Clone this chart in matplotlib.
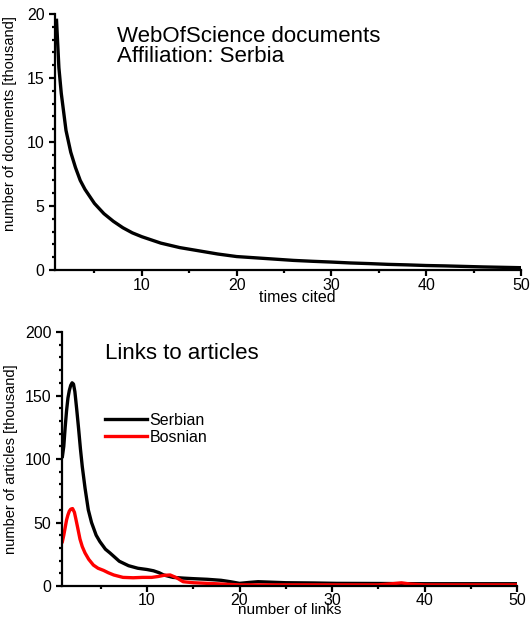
import matplotlib
matplotlib.use("Agg")
import matplotlib.pyplot as plt
from matplotlib.ticker import MultipleLocator

plt.rcParams['font.family'] = ['Liberation Sans', 'DejaVu Sans']

# --- data ---
# times cited vs number of documents [thousand]
cited_x = [1, 1.25, 1.5, 2, 2.5, 3, 3.5, 4, 5, 6, 7, 8, 9, 10, 12, 14, 16, 18, 20,
           22, 24, 26, 28, 30, 32, 34, 36, 38, 40, 42, 44, 46, 48, 50]
docs_y = [19.5, 15.8, 13.8, 10.9, 9.2, 8.0, 7.0, 6.3, 5.2, 4.4, 3.8, 3.3, 2.9, 2.6,
          2.1, 1.75, 1.5, 1.25, 1.05, 0.95, 0.85, 0.75, 0.68, 0.62, 0.55, 0.5,
          0.44, 0.4, 0.35, 0.32, 0.28, 0.24, 0.21, 0.18]

# number of links vs number of articles [thousand]
serbian_x = [0.85, 1.0, 1.15, 1.3, 1.45, 1.6, 1.75, 1.9, 2.05, 2.2, 2.4, 2.6, 2.8,
             3.0, 3.3, 3.65, 4.0, 4.5, 4.9, 5.5, 6.0, 7.0, 8.0, 9.0, 10.0, 10.7,
             11.3, 11.8, 12.8, 14, 15, 16.5, 18, 19, 20, 21, 22, 25, 28, 30.5, 35,
             40, 45, 50]
serbian_y = [102, 110, 125, 138, 148, 154, 158, 160, 159, 153, 139, 124, 108, 94,
             77, 60, 50, 40, 35, 29, 26, 19.5, 16, 14, 13, 12, 10.5, 8.7, 6.8, 6.2,
             5.8, 5.3, 4.5, 3.4, 2.1, 2.8, 3.4, 2.6, 2.4, 2.1, 2.0, 1.8, 1.8, 1.8]
bosnian_x = [0.85, 1.0, 1.15, 1.3, 1.45, 1.6, 1.75, 1.95, 2.15, 2.3, 2.5, 2.75, 3.0,
             3.3, 3.7, 4.2, 4.7, 5.3, 5.8, 6.4, 7.4, 8.5, 9.5, 10.5, 11.2, 11.8,
             12.5, 13.2, 13.9, 15, 16.5, 18, 20, 25, 30, 35, 36.5, 37.5, 38.5, 40,
             45, 50]
bosnian_y = [35, 40, 46, 52, 56, 59, 60.5, 61, 58, 53, 46, 37, 31, 26, 21, 16.5, 14,
             12.3, 10.5, 8.7, 6.8, 6.5, 6.8, 6.8, 7.5, 8.4, 8.7, 6.5, 3.4, 2.6, 2.1,
             1.6, 0.9, 0.9, 0.9, 0.9, 1.8, 2.5, 1.5, 0.9, 0.9, 0.9]

fig = plt.figure(figsize=(5.31, 6.17), dpi=100)

ax1 = fig.add_axes([0.1036, 0.5624, 0.8776, 0.415])
ax2 = fig.add_axes([0.1168, 0.0502, 0.857, 0.4117])

def style(ax, ymin_step):
    for s in ['top', 'right']:
        ax.spines[s].set_visible(False)
    for s in ['left', 'bottom']:
        ax.spines[s].set_linewidth(1.6)
    ax.xaxis.set_major_locator(MultipleLocator(10))
    ax.xaxis.set_minor_locator(MultipleLocator(5))
    ax.yaxis.set_minor_locator(MultipleLocator(ymin_step))
    ax.tick_params(which='major', length=4.5, width=1.6, labelsize=11.5, pad=1.5)
    ax.tick_params(which='minor', length=2.2, width=1.6)
    ax.tick_params(axis='y', which='major', pad=3)

# top panel
ax1.plot(cited_x, docs_y, color='black', lw=2.4, solid_joinstyle='round')
ax1.set_xlim(0.84, 50)
ax1.set_ylim(0, 20)
ax1.yaxis.set_major_locator(MultipleLocator(5))
style(ax1, 1)
ax1.set_xlabel('times cited', fontsize=11.5)
ax1.xaxis.set_label_coords(0.519, -0.08)
ax1.set_ylabel('number of documents [thousand]', fontsize=10.5)
ax1.yaxis.set_label_coords(-0.082, 0.57)
ax1.text(0.133, 0.953, 'WebOfScience documents\nAffiliation: Serbia',
         transform=ax1.transAxes, fontsize=16, va='top', ha='left',
         linespacing=0.95)

# bottom panel
ax2.plot(serbian_x, serbian_y, color='black', lw=2.4, label='Serbian',
         solid_joinstyle='round')
ax2.plot(bosnian_x, bosnian_y, color='red', lw=2.4, label='Bosnian',
         solid_joinstyle='round')
ax2.set_xlim(0.81, 50)
ax2.set_ylim(0, 200)
ax2.yaxis.set_major_locator(MultipleLocator(50))
style(ax2, 10)
ax2.tick_params(axis='x', which='major', pad=0.5)
ax2.set_xlabel('number of links', fontsize=11)
ax2.xaxis.set_label_coords(0.5, -0.068)
ax2.set_ylabel('number of articles [thousand]', fontsize=10.5)
ax2.yaxis.set_label_coords(-0.097, 0.5)
ax2.text(0.0945, 0.957, 'Links to articles', transform=ax2.transAxes,
         fontsize=16, va='top', ha='left')
ax2.legend(loc='upper left', bbox_to_anchor=(0.0945, 0.681), frameon=False,
           fontsize=11.5, handlelength=2.6, handletextpad=0.2,
           labelspacing=0.1, borderpad=0, borderaxespad=0)

fig.savefig('out.png', dpi=100)
